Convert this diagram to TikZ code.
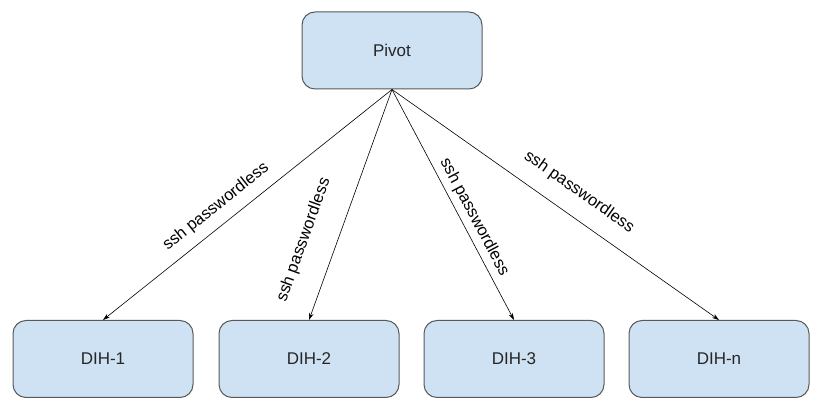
\documentclass[tikz,border=0pt]{standalone}
\usepackage{fontspec}
\setmainfont{Liberation Sans}
\usetikzlibrary{arrows.meta}
\definecolor{boxfill}{HTML}{CFE2F3}
\definecolor{boxline}{HTML}{595959}
\begin{document}
\begin{tikzpicture}[x=1pt,y=1pt,font=\fontsize{17}{20}\selectfont,
  box/.style={draw=boxline, fill=boxfill, rounded corners=13pt, line width=1pt,
    minimum width=180pt, minimum height=77pt, text=black!85},
  link/.style={-{Stealth[length=7pt,width=4.5pt]}, line width=0.6pt},
  lab/.style={sloped, inner sep=0pt, font=\fontsize{16.5}{19}\selectfont}]
\useasboundingbox (0,0) rectangle (822,414);

\node[box] (pivot) at (392,363.5) {Pivot};

\node[box] (dih1) at (103,55) {DIH-1};
\node[box] (dih2) at (309,55) {DIH-2};
\node[box] (dih3) at (514,55) {DIH-3};
\node[box] (dihn) at (719,55) {DIH-n};

\draw[link] (pivot.south) -- (dih1.north) node[lab, pos=0.57, yshift=18pt] {ssh passwordless};
\draw[link] (pivot.south) -- (dih2.north) node[lab, pos=0.70, yshift=32pt] {ssh passwordless};
\draw[link] (pivot.south) -- (dih3.north) node[lab, pos=0.58, yshift=13pt] {ssh passwordless};
\draw[link] (pivot.south) -- (dihn.north) node[lab, pos=0.53, yshift=24pt] {ssh passwordless};

\end{tikzpicture}
\end{document}
